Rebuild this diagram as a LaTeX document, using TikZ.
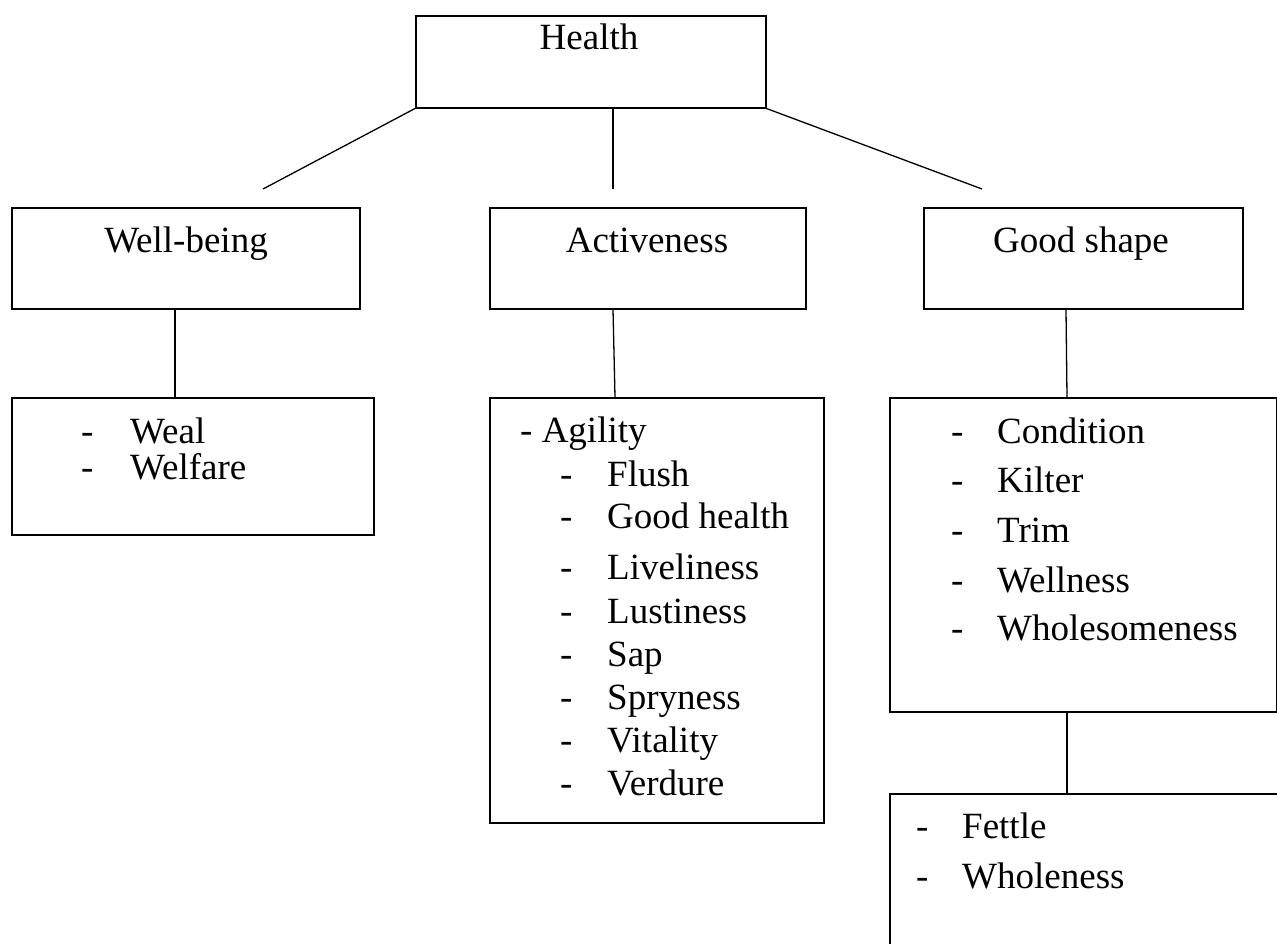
\documentclass[tikz,border=0pt]{standalone}
\usepackage{fontspec}
\setmainfont{Liberation Serif}
\begin{document}
\begin{tikzpicture}[x=1pt,y=-1pt,
  box/.style={draw, line width=1.5pt, inner sep=0pt, anchor=north west},
  conn/.style={line width=1.3pt},
  txt/.style={inner sep=0pt, anchor=base, font=\fontsize{37}{44}\selectfont},
  item/.style={inner sep=0pt, anchor=base west, font=\fontsize{37}{44}\selectfont}]
\useasboundingbox (0,0) rectangle (1277,943);
\clip (0,0) rectangle (1277,943);
% boxes
\node[box, minimum width=350pt, minimum height=92pt] (health) at (415,15) {};
\node[box, minimum width=348pt, minimum height=101pt] (well) at (11,207) {};
\node[box, minimum width=316pt, minimum height=101pt] (act) at (489,207) {};
\node[box, minimum width=319pt, minimum height=101pt] (good) at (923,207) {};
\node[box, minimum width=362pt, minimum height=137pt] (weal) at (11,397) {};
\node[box, minimum width=334pt, minimum height=425pt] (agil) at (489,397) {};
\node[box, minimum width=387pt, minimum height=314pt] (cond) at (889,397) {};
\node[box, minimum width=450pt, minimum height=220pt] (fett) at (889,793) {};
% titles
\node[txt] (tHealth) at (589,49) {Health};
\node[txt] (tWell) at (186,252) {Well-being};
\node[txt] (tAct) at (647,252) {Activeness};
\node[txt] (tGood) at (1081,252) {Good shape};
% connector ends
\coordinate (e1) at (263,189);
\coordinate (e2) at (613,189);
\coordinate (e3) at (982,189);
\draw[conn] (health.south west) -- (e1);
\draw[conn] (health.south -| e2) -- (e2);
\draw[conn] (health.south east) -- (e3);
\draw[conn] ([xshift=164pt]well.south west) -- ([xshift=164pt]weal.north west);
\draw[conn] ([xshift=124pt]act.south west) -- ([xshift=126pt]agil.north west);
\draw[conn] ([xshift=143pt]good.south west) -- ([xshift=178pt]cond.north west);
\draw[conn] ([xshift=178pt]cond.south west) -- ([xshift=178pt]fett.north west);
% Weal list
\node[item] (d1) at (81,443) {-};
\node[item] (w1) at (130,443) {Weal};
\node[item] (d2) at (81,479) {-};
\node[item] (w2) at (130,479) {Welfare};
% Agility list
\node[item] (ag) at (520,442) {- Agility};
\foreach \y/\t [count=\i] in {486/Flush,528/Good health,579/Liveliness,623/Lustiness,666/Sap,709/Spryness,752/Vitality,795/Verdure}{
  \node[item] (ad\i) at (560,\y) {-};
  \node[item] (at\i) at (607,\y) {\t};
}
% Condition list
\foreach \y/\t [count=\i] in {443/Condition,492/Kilter,542/Trim,592/Wellness,640/Wholesomeness}{
  \node[item] (cd\i) at (951,\y) {-};
  \node[item] (ct\i) at (997,\y) {\t};
}
% Fettle list
\node[item] (fd1) at (916,838) {-};
\node[item] (ft1) at (962,838) {Fettle};
\node[item] (fd2) at (916,888) {-};
\node[item] (ft2) at (962,888) {Wholeness};
\end{tikzpicture}
\end{document}
